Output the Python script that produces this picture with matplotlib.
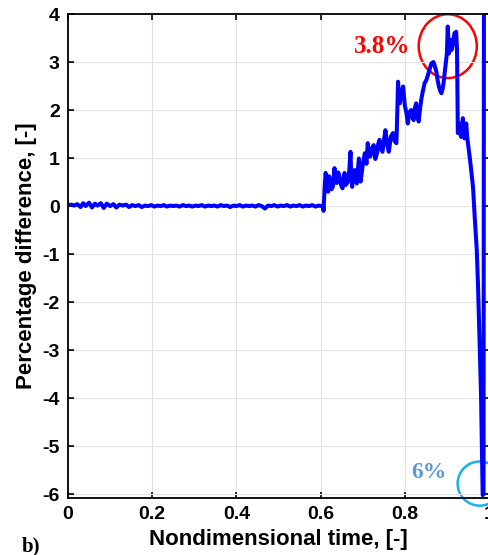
import matplotlib
matplotlib.use("Agg")
import matplotlib.pyplot as plt
from matplotlib.patches import Ellipse

# nondimensional time / percentage difference
flat_t = [0.000, 0.008, 0.015, 0.022, 0.030, 0.036, 0.042, 0.050, 0.057, 0.064,
          0.070, 0.078, 0.085, 0.092, 0.100, 0.108, 0.115, 0.122, 0.130, 0.138,
          0.145, 0.152, 0.160, 0.168, 0.175, 0.183, 0.190, 0.198, 0.205, 0.213,
          0.220, 0.228, 0.235, 0.243, 0.250, 0.258, 0.265, 0.273, 0.280, 0.288,
          0.295, 0.303, 0.310, 0.318, 0.325, 0.333, 0.340, 0.348, 0.355, 0.363,
          0.370, 0.378, 0.385, 0.393, 0.400, 0.408, 0.415, 0.423, 0.430, 0.438,
          0.445, 0.453, 0.460, 0.468, 0.475, 0.483, 0.490, 0.498, 0.505, 0.513,
          0.520, 0.528, 0.535, 0.543, 0.550, 0.558, 0.565, 0.573, 0.580, 0.588,
          0.595, 0.602]
flat_y = [0.02, 0.03, 0.01, 0.04, -0.02, 0.06, 0.00, 0.07, -0.03, 0.05,
          0.01, 0.06, -0.04, 0.05, 0.00, 0.04, -0.03, 0.03, 0.01, 0.03,
          -0.02, 0.02, 0.00, 0.02, -0.02, 0.01, 0.00, 0.02, -0.01, 0.01,
          0.00, 0.02, -0.01, 0.01, 0.00, 0.01, -0.01, 0.02, 0.00, 0.01,
          -0.01, 0.01, 0.00, 0.02, -0.01, 0.01, 0.00, 0.01, -0.01, 0.02,
          0.00, 0.01, -0.02, 0.01, 0.00, 0.02, -0.01, 0.01, 0.00, 0.01,
          -0.01, 0.02, 0.00, -0.05, 0.01, 0.00, 0.02, -0.01, 0.01, 0.00,
          0.02, -0.01, 0.01, 0.00, 0.02, -0.01, 0.01, 0.00, 0.02, -0.01,
          0.01, 0.00]

rise_t = [0.606, 0.607, 0.610, 0.612, 0.615, 0.618, 0.620, 0.623, 0.626, 0.629,
          0.633, 0.636, 0.638, 0.642, 0.645, 0.648, 0.652, 0.655, 0.657, 0.660,
          0.664, 0.668, 0.671, 0.673, 0.675, 0.678, 0.681, 0.684, 0.686, 0.689,
          0.691, 0.693, 0.695, 0.700, 0.705, 0.709, 0.712, 0.715, 0.718, 0.722,
          0.726, 0.730, 0.734, 0.737, 0.740, 0.744, 0.747, 0.751, 0.754, 0.758,
          0.762, 0.767, 0.772, 0.776, 0.780, 0.781, 0.784, 0.786, 0.788, 0.792,
          0.796, 0.800, 0.804, 0.807, 0.811, 0.815, 0.818, 0.821, 0.824, 0.827,
          0.830, 0.833, 0.836, 0.839, 0.843, 0.847, 0.851, 0.855, 0.859, 0.863,
          0.868, 0.871, 0.875, 0.878, 0.881, 0.884, 0.887, 0.890, 0.892, 0.895,
          0.897, 0.900, 0.902, 0.905, 0.908, 0.911, 0.913, 0.916, 0.918, 0.922,
          0.924, 0.926, 0.928, 0.930, 0.932, 0.934, 0.936, 0.938, 0.940, 0.942,
          0.944, 0.946, 0.948, 0.950, 0.955, 0.962, 0.966, 0.971, 0.974, 0.977,
          0.979, 0.981, 0.983, 0.985, 0.987, 0.988]
rise_y = [-0.01, -0.10, 0.45, 0.69, 0.42, 0.30, 0.62, 0.54, 0.35, 0.40,
          0.79, 0.52, 0.48, 0.70, 0.61, 0.45, 0.37, 0.58, 0.69, 0.44,
          0.50, 0.72, 1.13, 0.55, 0.40, 0.68, 0.75, 0.52, 0.47, 0.80,
          0.99, 0.66, 0.51, 0.85, 1.10, 0.88, 1.31, 1.05, 1.03, 1.20,
          1.27, 0.98, 1.10, 1.30, 1.38, 1.18, 1.13, 1.40, 1.58, 1.30,
          1.13, 1.45, 1.52, 1.35, 1.31, 1.58, 2.59, 2.30, 2.14, 2.35,
          2.49, 2.10, 1.93, 1.72, 1.95, 2.00, 1.85, 1.79, 2.05, 2.14,
          1.90, 1.76, 2.02, 2.21, 2.40, 2.56, 2.62, 2.73, 2.85, 2.97,
          3.00, 2.92, 2.80, 2.62, 2.49, 2.40, 2.35, 2.45, 2.56, 2.80,
          2.97, 3.18, 3.74, 3.18, 3.46, 3.25, 3.32, 3.50, 3.60, 3.63,
          3.25, 1.52, 1.62, 1.72, 1.50, 1.44, 1.65, 1.83, 1.55, 1.41,
          1.60, 1.72, 1.45, 1.31, 0.96, 0.40, -0.22, -0.92, -1.68, -2.65,
          -3.35, -3.90, -5.00, -6.02, -6.00, 4.60]

t = flat_t + rise_t
y = flat_y + rise_y

plt.rcParams['font.family'] = ['Liberation Sans', 'DejaVu Sans']
plt.rcParams['font.weight'] = 'bold'
plt.rcParams['axes.unicode_minus'] = False

fig = plt.figure(figsize=(4.89, 5.55), dpi=100)
ax = fig.add_axes([68/489, 1 - 498/555, 421/489, 484/555])

ax.plot(t, y, color='#0000ff', lw=2.9, solid_joinstyle='round')

ax.set_xlim(0, 1)
ax.set_ylim(-6.08, 4)
ax.set_xticks([0, 0.2, 0.4, 0.6, 0.8, 1])
ax.set_xticklabels(['0', '0.2', '0.4', '0.6', '0.8', '1'])
ax.set_yticks(range(-6, 5))
ax.grid(True, color='#e3e3e3', lw=0.8)
ax.tick_params(direction='in', top=True, right=True, length=4, width=1.2,
               labelsize=14, pad=6)
for s in ax.spines.values():
    s.set_linewidth(1.3)

ax.set_xlabel('Nondimensional time, [-]', fontsize=16, fontweight='bold', labelpad=4)
ax.set_ylabel('Percentage difference, [-]', fontsize=16, fontweight='bold', labelpad=4)

# annotations
ax.text(0.678, 3.33, '3.8%', color='#ff0000', fontsize=18, fontweight='bold',
        family='Liberation Serif', ha='left', va='center')
ax.add_patch(Ellipse((0.902, 3.33), 0.138, 1.33, fill=False, ec='#ff0000',
                     lw=1.8, clip_on=False))
ax.text(0.816, -5.55, '6%', color='#5b9bd5', fontsize=17, fontweight='bold',
        family='Liberation Serif', ha='left', va='center')
ax.add_patch(Ellipse((0.978, -5.78), 0.105, 0.92, fill=False, ec='#1ab0e8',
                     lw=1.8, clip_on=False))

fig.text(22/489, 1 - 546/555, 'b)', fontsize=15, fontweight='bold',
         family='Liberation Serif', ha='left', va='center')

fig.savefig('out.png', dpi=100)
